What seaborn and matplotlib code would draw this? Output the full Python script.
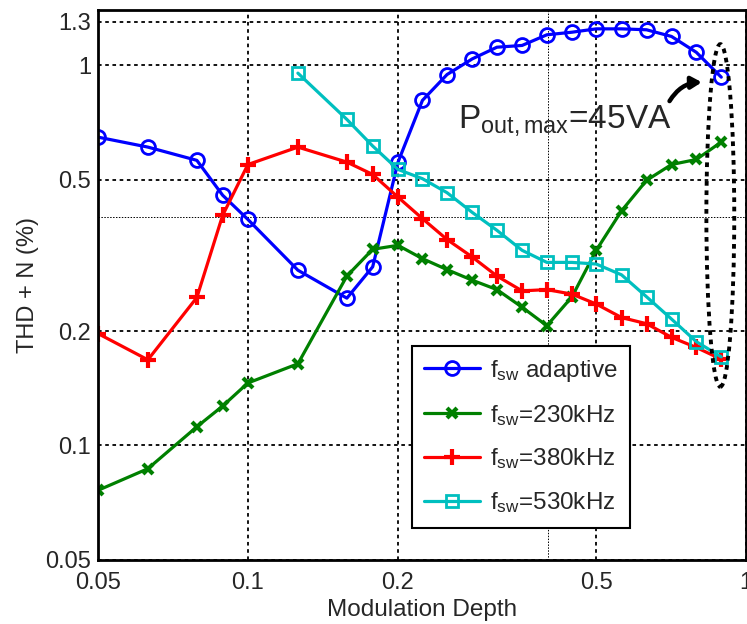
import matplotlib
matplotlib.use('Agg')
import matplotlib.pyplot as plt
import seaborn as sns
import pandas as pd
from matplotlib.patches import Ellipse
from matplotlib.ticker import FixedLocator, NullFormatter

# modulation depth values (x) and THD+N (%) readings
x_adaptive = [0.05, 0.063, 0.079, 0.089, 0.1, 0.126, 0.158, 0.178, 0.2, 0.224, 0.251,
              0.282, 0.316, 0.355, 0.398, 0.447, 0.5, 0.562, 0.631, 0.708, 0.794, 0.891]
y_adaptive = [0.647, 0.609, 0.562, 0.455, 0.393, 0.289, 0.244, 0.295, 0.555, 0.808, 0.945,
              1.039, 1.115, 1.127, 1.202, 1.221, 1.246, 1.246, 1.239, 1.19, 1.081, 0.93]

x_230 = x_adaptive
y_230 = [0.0762, 0.0869, 0.112, 0.127, 0.146, 0.164, 0.279, 0.328, 0.336, 0.310, 0.290,
         0.272, 0.257, 0.231, 0.2065, 0.246, 0.326, 0.414, 0.498, 0.548, 0.565, 0.628]

x_380 = x_adaptive
y_380 = [0.197, 0.168, 0.245, 0.403, 0.548, 0.609, 0.556, 0.516, 0.450, 0.395, 0.348,
         0.313, 0.279, 0.255, 0.257, 0.250, 0.2355, 0.217, 0.209, 0.1925, 0.181, 0.1686]

x_530 = [0.126, 0.158, 0.178, 0.2, 0.224, 0.251, 0.282, 0.316, 0.355, 0.398, 0.447,
         0.5, 0.562, 0.631, 0.708, 0.794, 0.891]
y_530 = [0.953, 0.720, 0.613, 0.532, 0.503, 0.462, 0.410, 0.368, 0.326, 0.303, 0.303,
         0.300, 0.281, 0.246, 0.215, 0.1875, 0.171]

x_ticks = [0.05, 0.1, 0.2, 0.5, 1]
x_ticklabels = ['0.05', '0.1', '0.2', '0.5', '1']
y_ticks = [0.05, 0.1, 0.2, 0.5, 1, 1.3]
y_ticklabels = ['0.05', '0.1', '0.2', '0.5', '1', '1.3']

sns.set_style('white')
plt.rcParams['font.family'] = ['Liberation Sans', 'DejaVu Sans']
plt.rcParams['mathtext.fontset'] = 'custom'
plt.rcParams['mathtext.rm'] = 'Liberation Sans'
plt.rcParams['mathtext.it'] = 'Liberation Sans'

fig = plt.figure(figsize=(7.47, 6.24), dpi=100)
ax = fig.add_axes([0.131, 0.1026, 0.868, 0.882])

series = [
    (x_adaptive, y_adaptive, r'f$_{\mathrm{sw}}$ adaptive', (0, 0, 1), 'o', 10, 2),
    (x_230, y_230, r'f$_{\mathrm{sw}}$=230kHz', (0, 0.5, 0), 'x', 7, 3),
    (x_380, y_380, r'f$_{\mathrm{sw}}$=380kHz', (1, 0, 0), '+', 11, 3),
    (x_530, y_530, r'f$_{\mathrm{sw}}$=530kHz', (0, 0.75, 0.75), 's', 9, 2),
]
for xs, ys, lab, col, mk, ms, mew in series:
    df = pd.DataFrame({'x': xs, 'y': ys})
    sns.lineplot(data=df, x='x', y='y', ax=ax, color=col, lw=2.3, marker=mk,
                 markersize=ms, markeredgewidth=mew, markerfacecolor='none',
                 markeredgecolor=col, label=lab)

ax.set_xscale('log')
ax.set_yscale('log')
ax.set_xlim(0.05, 1)
ax.set_ylim(0.05, 1.4)
ax.set_xticks(x_ticks)
ax.set_xticklabels(x_ticklabels)
ax.set_yticks(y_ticks)
ax.set_yticklabels(y_ticklabels)
ax.xaxis.set_minor_locator(FixedLocator([0.4]))
ax.yaxis.set_minor_locator(FixedLocator([0.4]))
ax.xaxis.set_minor_formatter(NullFormatter())
ax.yaxis.set_minor_formatter(NullFormatter())
ax.tick_params(which='both', direction='in', labelsize=17, length=5, width=1.2, color='k')
ax.tick_params(axis='x', which='major', pad=9)
ax.tick_params(axis='y', which='major', pad=5)
ax.tick_params(which='minor', length=3)
ax.grid(True, which='major', color='k', linestyle=(0, (2, 2)), linewidth=1.3)
ax.grid(True, which='minor', color='k', linestyle=(0, (1.5, 1.5)), linewidth=0.7)
for sp in ax.spines.values():
    sp.set_color('k')
    sp.set_linewidth(2)

ax.set_xlabel('Modulation Depth', fontsize=17.5, labelpad=3)
ax.set_ylabel('THD + N (%)', fontsize=17, labelpad=4)

# annotation
ax.text(0.264, 0.687, r'P$_{\mathrm{out,max}}$=45VA', fontsize=24, ha='left', va='baseline')
ax.annotate('', xy=(0.825, 0.902), xytext=(0.697, 0.793),
            arrowprops=dict(arrowstyle='-|>,head_length=0.6,head_width=0.35', color='k',
                            lw=3.2, connectionstyle='arc3,rad=-0.3'))
ell = Ellipse((0.960, 0.626), 0.043, 0.6225, transform=ax.transAxes, fill=False,
              edgecolor='k', linestyle=(0, (1.2, 1.2)), linewidth=2.8, zorder=5)
ax.add_patch(ell)

leg = ax.legend(loc='lower left', bbox_to_anchor=(0.485, 0.059), fontsize=17.5,
                frameon=True, fancybox=False, edgecolor='k', framealpha=1,
                handlelength=2.3, borderpad=0.5, labelspacing=0.78, handletextpad=0.4,
                borderaxespad=0)
leg.get_frame().set_linewidth(1.5)

fig.savefig('out.png', dpi=100)
